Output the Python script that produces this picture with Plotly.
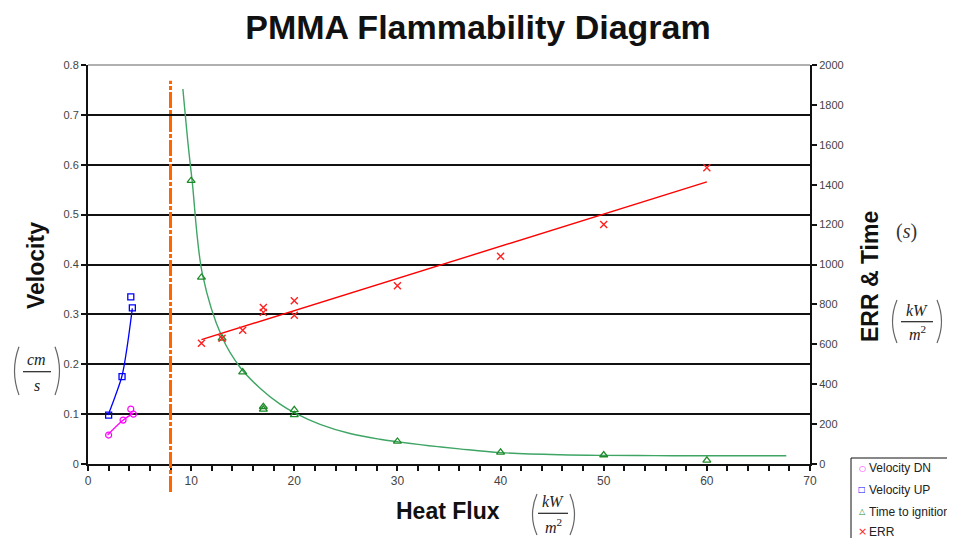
import numpy as np
import plotly.graph_objects as go

# ---------------- data ----------------
dn_x = [2.0, 3.4, 4.15, 4.4]
dn_y = [0.058, 0.088, 0.110, 0.100]
dn_fit_x = [1.9, 3.36, 4.4]
dn_fit_y = [0.058, 0.087, 0.102]

up_x = [2.0, 3.3, 4.15, 4.3]
up_y = [0.098, 0.175, 0.335, 0.313]
up_fit_x = [1.95, 2.62, 3.3, 3.75, 4.3]
up_fit_y = [0.098, 0.135, 0.177, 0.229, 0.312]

ign_x = [10, 11, 13, 15, 17, 17, 20, 20, 30, 40, 50, 60]
ign_y = [1420, 935, 630, 461, 287, 274, 271, 246, 113, 58, 45, 18]
ign_fit_x = [9.2, 9.73, 10.1, 11.1, 13.0, 14.74, 16.68, 18.62, 20.08, 22.5,
             25.4, 28.3, 30.1, 32.2, 33.9, 36.0, 40.0, 45.8, 50.0, 55.0, 60.0, 67.7]
ign_fit_y = [1880, 1590, 1418, 950, 635, 485, 380, 300, 255, 199,
             153, 124, 111, 97, 87, 76, 57, 46, 43, 42, 41, 41]

err_x = [11, 13, 15, 17, 17, 20, 20, 30, 40, 50, 60]
err_y = [605, 630, 671, 785, 760, 818, 746, 893, 1041, 1200, 1485]

critical_flux = 8

x_ticks = [0, 10, 20, 30, 40, 50, 60, 70]
y_ticks = [0, 0.1, 0.2, 0.3, 0.4, 0.5, 0.6, 0.7, 0.8]
y2_ticks = list(range(0, 2001, 200))

legend_names = ["Velocity DN", "Velocity UP", "Time to ignition", "ERR"]

# ---------------- layout geometry (screen pixels; page body adds an 8px offset) ----------------
W, H = 955, 538
OFF = 8
L, R, T, B = 88, 810, 65, 464


def px(x):
    return (x - L) / (R - L)


def py(y):
    return (B - y) / (B - T)


FONT = "Liberation Sans"
SERIF = "Liberation Serif"

fig = go.Figure()

# ERR linear trendline (least squares on the ERR data)
k, b0 = np.polyfit(err_x, err_y, 1)
err_fit_x = [min(err_x), max(err_x)]
err_fit_y = [k * v + b0 for v in err_fit_x]

fig.add_trace(go.Scatter(x=dn_fit_x, y=dn_fit_y, mode="lines", line=dict(color="#ff00ff", width=1.3, shape="spline"),
                         showlegend=False, hoverinfo="skip"))
fig.add_trace(go.Scatter(x=dn_x, y=dn_y, mode="markers", name="Velocity DN",
                         marker=dict(symbol="circle-open", size=6, color="#ff00ff", line=dict(width=1.2)),
                         showlegend=False))
fig.add_trace(go.Scatter(x=up_fit_x, y=up_fit_y, mode="lines", line=dict(color="#0000ff", width=1.3, shape="spline"),
                         showlegend=False, hoverinfo="skip"))
fig.add_trace(go.Scatter(x=up_x, y=up_y, mode="markers", name="Velocity UP",
                         marker=dict(symbol="square-open", size=6, color="#0000ff", line=dict(width=1.3)),
                         showlegend=False))
fig.add_trace(go.Scatter(x=ign_fit_x, y=ign_fit_y, mode="lines", yaxis="y2",
                         line=dict(color="#3ea565", width=1.4, shape="spline", smoothing=1.0),
                         showlegend=False, hoverinfo="skip"))
fig.add_trace(go.Scatter(x=ign_x, y=ign_y, mode="markers", yaxis="y2", name="Time to ignition",
                         marker=dict(symbol="triangle-up-open", size=7, color="#1f8a2a", line=dict(width=1.3)),
                         showlegend=False))
fig.add_trace(go.Scatter(x=err_fit_x, y=err_fit_y, mode="lines", yaxis="y2",
                         line=dict(color="#ff0000", width=1.4), showlegend=False, hoverinfo="skip"))
fig.add_trace(go.Scatter(x=err_x, y=err_y, mode="markers", yaxis="y2", name="ERR",
                         marker=dict(symbol="x-thin-open", size=7, color="#ff2020", line=dict(width=1.4, color="#ff2020")),
                         showlegend=False))

shapes = []
# vertical critical heat flux line (extends outside the plot vertically)
shapes.append(dict(type="line", xref="x", yref="paper", x0=critical_flux, x1=critical_flux,
                   y0=py(492), y1=py(80.7), line=dict(color="#ff6600", width=3, dash="16px,2px,4px,2px"),
                   layer="above"))
# light top grid line (0.8)
shapes.append(dict(type="line", xref="paper", yref="paper", x0=0, x1=1, y0=1, y1=1,
                   line=dict(color="#b0b0b0", width=2), layer="above"))

annotations = []


def fraction(cx, ynum, yline, yden, half, top, bot, lbulge, rbulge, num, den):
    annotations.append(dict(xref="paper", yref="paper", x=px(cx), y=py(ynum), text=num, showarrow=False,
                            font=dict(family=SERIF, size=16, color="#222"), xanchor="center", yanchor="middle"))
    annotations.append(dict(xref="paper", yref="paper", x=px(cx), y=py(yden), text=den, showarrow=False,
                            font=dict(family=SERIF, size=16, color="#222"), xanchor="center", yanchor="middle"))
    shapes.append(dict(type="line", xref="paper", yref="paper", x0=px(cx - half), x1=px(cx + half),
                       y0=py(yline), y1=py(yline), line=dict(color="#222", width=1.2)))
    mid = (top + bot) / 2
    le = lbulge + 5
    re = rbulge - 5
    shapes.append(dict(type="path", xref="paper", yref="paper",
                       path=f"M {px(le)},{py(top)} Q {px(lbulge - 4)},{py(mid)} {px(le)},{py(bot)}",
                       line=dict(color="#666", width=1.2)))
    shapes.append(dict(type="path", xref="paper", yref="paper",
                       path=f"M {px(re)},{py(top)} Q {px(rbulge + 4)},{py(mid)} {px(re)},{py(bot)}",
                       line=dict(color="#666", width=1.2)))


fraction(37, 359, 371.7, 385, 14, 346.7, 395, 14, 60, "<i>cm</i>", "<i>s</i>")
fraction(553, 501.7, 513.3, 526, 15, 494, 535, 532, 575, "<i>kW</i>", "<i>m</i><sup>2</sup>")
fraction(917, 310, 321.7, 333.3, 16, 300, 343, 892, 942, "<i>kW</i>", "<i>m</i><sup>2</sup>")

annotations.append(dict(xref="paper", yref="paper", x=px(906), y=py(231.7), text="(<i>s</i>)", showarrow=False,
                        font=dict(family=SERIF, size=20, color="#333"), xanchor="center", yanchor="middle"))

# axis titles
annotations.append(dict(xref="paper", yref="paper", x=px(36), y=py(265), text="<b>Velocity</b>", textangle=-90,
                        showarrow=False, font=dict(family=FONT, size=23, color="#111"),
                        xanchor="center", yanchor="middle"))
annotations.append(dict(xref="paper", yref="paper", x=px(870), y=py(277), text="<b>ERR &amp; Time</b>", textangle=-90,
                        showarrow=False, font=dict(family=FONT, size=23, color="#111"),
                        xanchor="center", yanchor="middle"))
annotations.append(dict(xref="paper", yref="paper", x=px(448), y=py(511), text="<b>Heat Flux</b>",
                        showarrow=False, font=dict(family=FONT, size=23, color="#111"),
                        xanchor="center", yanchor="middle"))

# manual legend (box runs off the right edge like in the reference)
shapes.append(dict(type="rect", xref="paper", yref="paper", x0=px(851), x1=px(970), y0=py(458), y1=py(560),
                   line=dict(color="#111", width=1), fillcolor="white"))
leg_y = [468.3, 490, 511.7, 531.7]
leg_glyph = ["○", "□", "△", "×"]
leg_col = ["#ff00ff", "#0000ff", "#1f8a2a", "#ff2020"]
leg_size = [8, 8, 8, 11]
for name, yy, g, c, s in zip(legend_names, leg_y, leg_glyph, leg_col, leg_size):
    annotations.append(dict(xref="paper", yref="paper", x=px(862), y=py(yy), text=g, showarrow=False,
                            font=dict(family="DejaVu Sans", size=s, color=c), xanchor="center", yanchor="middle"))
    annotations.append(dict(xref="paper", yref="paper", x=px(867), y=py(yy), text=name, showarrow=False,
                            font=dict(family=FONT, size=12, color="#222"), xanchor="left", yanchor="middle"))

fig.update_layout(
    width=W, height=H,
    margin=dict(l=L - OFF, r=W - (R - OFF), t=T - OFF, b=H - (B - OFF), pad=0),
    paper_bgcolor="white", plot_bgcolor="white",
    title=dict(text="<b>PMMA Flammability Diagram</b>", x=(478 - OFF) / W, xref="container", xanchor="center",
               y=1 - (27 - OFF) / H, yref="container", yanchor="middle",
               font=dict(family=FONT, size=34, color="#111")),
    xaxis=dict(range=[0, 70], tickvals=x_ticks, ticktext=[str(v) for v in x_ticks],
               showgrid=False, zeroline=False, showline=True, linecolor="#111", linewidth=2,
               ticks="outside", ticklen=5, tickwidth=1.5, tickcolor="#111",
               minor=dict(dtick=2, ticks="outside", ticklen=5, tickwidth=1.5, tickcolor="#111"),
               tickfont=dict(family=FONT, size=12, color="#444")),
    yaxis=dict(range=[0, 0.8], tickvals=y_ticks, ticktext=[("0" if v == 0 else f"{v:.1f}") for v in y_ticks],
               showgrid=True, gridcolor="#111", gridwidth=1.6, zeroline=False,
               showline=True, linecolor="#111", linewidth=2,
               ticks="outside", ticklen=5, tickwidth=1.5, tickcolor="#111",
               tickfont=dict(family=FONT, size=11, color="#444")),
    yaxis2=dict(range=[0, 2000], tickvals=y2_ticks, ticktext=[str(v) for v in y2_ticks],
                overlaying="y", side="right", showgrid=False, zeroline=False,
                showline=True, linecolor="#111", linewidth=2,
                ticks="outside", ticklen=5, tickwidth=1.5, tickcolor="#111",
                tickfont=dict(family=FONT, size=11, color="#444")),
    shapes=shapes,
    annotations=annotations,
    showlegend=False,
)

fig.write_html("out.html")
